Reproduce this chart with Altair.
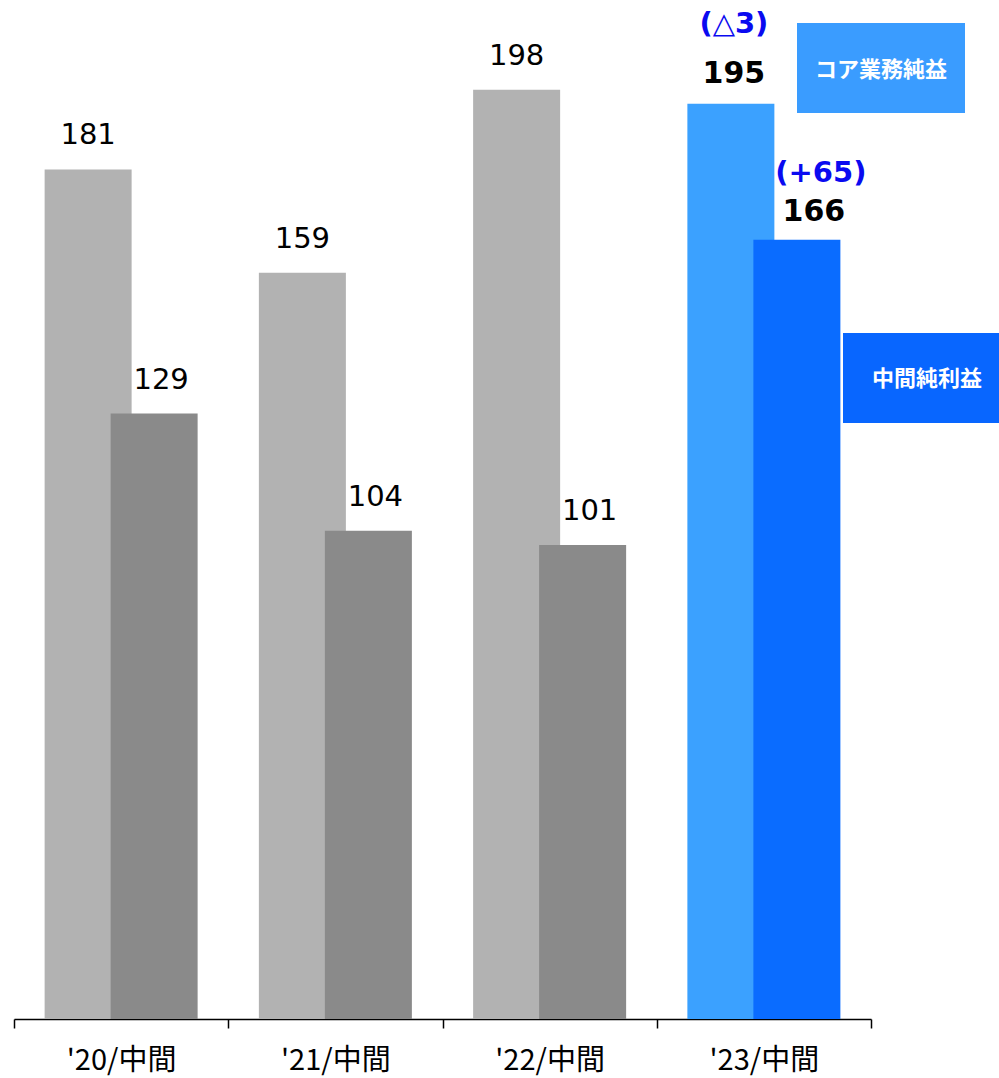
import altair as alt
import pandas as pd

# Half-year results (億円)
periods = ["'20/中間", "'21/中間", "'22/中間", "'23/中間"]
series_names = ["コア業務純益", "中間純利益"]
core_profit = [181, 159, 198, 195]
net_income = [129, 104, 101, 166]
# Year-on-year change for the latest half
core_change = "(△3)"
net_change = "(+65)"

tone_domain = ["past_core", "past_net", "now_core", "now_net"]
tone_range = ["#b2b2b2", "#8a8a8a", "#3ba1ff", "#0a6cff"]

rows = []
for i, p in enumerate(periods):
    latest = i == len(periods) - 1
    rows.append({"period": p, "series": series_names[0], "value": core_profit[i],
                 "tone": "now_core" if latest else "past_core", "latest": latest,
                 "change": core_change if latest else ""})
    rows.append({"period": p, "series": series_names[1], "value": net_income[i],
                 "tone": "now_net" if latest else "past_net", "latest": latest,
                 "change": net_change if latest else ""})
df = pd.DataFrame(rows)

PLOT_W, PLOT_H = 857, 1019
NUM_FONT = "DejaVu Sans"
JP_FONT = "Noto Sans CJK JP"

x_enc = alt.X("period:N", sort=periods, title=None,
              scale=alt.Scale(paddingInner=0, paddingOuter=0),
              axis=alt.Axis(labelAngle=0, tickBand="extent", tickSize=9,
                            labelFont=JP_FONT, labelFontSize=29, labelColor="#000000",
                            labelPadding=18, domainColor="#000000", tickColor="#000000",
                            domainWidth=1.5, tickWidth=1.5))
y_enc = alt.Y("value:Q", axis=None,
              scale=alt.Scale(domain=[0, 217.1], nice=False, zero=True))
color_enc = alt.Color("tone:N", legend=None,
                      scale=alt.Scale(domain=tone_domain, range=tone_range))

base = alt.Chart(df)
core = base.transform_filter(alt.datum.series == series_names[0])
net = base.transform_filter(alt.datum.series == series_names[1])

bars_core = core.mark_bar(width=87, xOffset=-33).encode(x=x_enc, y=y_enc, color=color_enc)
bars_net = net.mark_bar(width=87, xOffset=33).encode(x=x_enc, y=y_enc, color=color_enc)

def value_labels(src, offset, dx_past, dx_now, dy_past, dy_now):
    past = src.transform_filter("!datum.latest").mark_text(
        font=NUM_FONT, fontSize=29, color="#000000", baseline="alphabetic",
        xOffset=offset, dx=dx_past, dy=dy_past
    ).encode(x="period:N", y="value:Q", text="value:Q")
    now = src.transform_filter("datum.latest").mark_text(
        font=NUM_FONT, fontSize=30, fontWeight="bold", color="#000000",
        baseline="alphabetic", xOffset=offset, dx=dx_now, dy=dy_now
    ).encode(x="period:N", y="value:Q", text="value:Q")
    return past + now

def change_label(src, offset, dx, dy):
    return src.transform_filter("datum.latest").mark_text(
        font=NUM_FONT, fontSize=29, fontWeight="bold", color="#0a0af0",
        baseline="alphabetic", xOffset=offset, dx=dx, dy=dy
    ).encode(x="period:N", y="value:Q", text="change:N")

labels_core = value_labels(core, -33, 0, 3, -25, -21)
labels_net = value_labels(net, 33, 7, 17, -25, -19)
chg_core = change_label(core, -33, 3, -71)
chg_net = change_label(net, 33, 24, -58)

# Series key boxes at the right
key_src = alt.Chart(pd.DataFrame({"k": [0]}))
key_core_box = key_src.mark_rect(color="#3a9cff").encode(
    x=alt.value(783), x2=alt.value(951), y=alt.value(23), y2=alt.value(113))
key_core_txt = key_src.mark_text(font=JP_FONT, fontSize=22, fontWeight="bold",
                                 color="#ffffff", align="center", baseline="middle").encode(
    x=alt.value(867), y=alt.value(70), text=alt.value(series_names[0]))
key_net_box = key_src.mark_rect(color="#0866ff").encode(
    x=alt.value(829), x2=alt.value(990), y=alt.value(333), y2=alt.value(423))
key_net_txt = key_src.mark_text(font=JP_FONT, fontSize=22, fontWeight="bold",
                                color="#ffffff", align="center", baseline="middle").encode(
    x=alt.value(913), y=alt.value(379), text=alt.value(series_names[1]))

chart = alt.layer(
    bars_core, bars_net, labels_core, labels_net, chg_core, chg_net,
    key_core_box, key_core_txt, key_net_box, key_net_txt
).properties(
    width=PLOT_W, height=PLOT_H,
    autosize=alt.AutoSizeParams(type="none"),
    padding={"left": 14, "top": 0, "right": 128, "bottom": 59},
    background="#ffffff",
).configure_view(stroke=None)

chart.save("out.html", embed_options={"renderer": "svg", "actions": False})
